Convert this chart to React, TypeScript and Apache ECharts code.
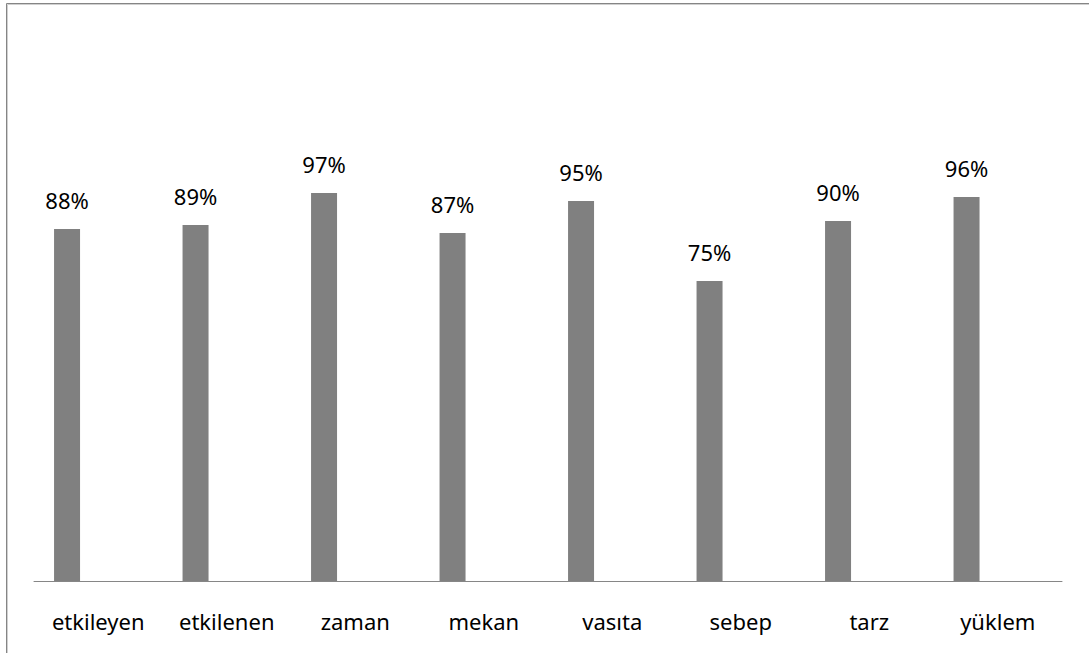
import React, { useEffect, useRef } from "react";
import * as echarts from "echarts";

const categories = ["etkileyen", "etkilenen", "zaman", "mekan", "vasıta", "sebep", "tarz", "yüklem"];
const percentValues = [88, 89, 97, 87, 95, 75, 90, 96];
const emptySeries = ["-", "-", "-", "-", "-", "-", "-", "-"];

export default function App() {
  const ref = useRef<HTMLDivElement>(null);
  useEffect(() => {
    if (!ref.current) return;
    const chart = echarts.init(ref.current, null, { renderer: "svg" });
    chart.setOption({
      animation: false,
      backgroundColor: "#ffffff",
      textStyle: { fontFamily: "Noto Sans" },
      grid: { left: 34, right: 27, top: 181, bottom: 72 },
      xAxis: {
        type: "category",
        data: categories,
        axisLine: { lineStyle: { color: "#868686", width: 1 } },
        axisTick: { show: false },
        axisLabel: { color: "#000", fontSize: 22, margin: 29, fontFamily: "Noto Sans" },
      },
      yAxis: {
        type: "value",
        min: 0,
        max: 100,
        show: false,
        splitLine: { show: false },
      },
      series: [
        {
          type: "bar",
          data: percentValues,
          barWidth: 26,
          barGap: "140%",
          itemStyle: { color: "#808080" },
          label: {
            show: true,
            position: "top",
            distance: 18,
            formatter: "{c}%",
            color: "#000",
            fontSize: 22,
            fontFamily: "Noto Sans",
          },
        },
        {
          type: "bar",
          data: emptySeries,
          barWidth: 26,
          itemStyle: { color: "#808080" },
        },
      ],
      graphic: [
        {
          type: "rect",
          shape: { x: 6.5, y: 3.5, width: 1200, height: 800 },
          style: { fill: "none", stroke: "#858585", lineWidth: 1 },
          silent: true,
        },
        {
          type: "rect",
          shape: { x: 7.5, y: 4.5, width: 1200, height: 800 },
          style: { fill: "none", stroke: "#d0d0d0", lineWidth: 1 },
          silent: true,
        },
      ],
    });
    return () => chart.dispose();
  }, []);
  return (
    <div
      ref={ref}
      style={{ position: "fixed", left: 0, top: 0, width: 1089, height: 653 }}
    />
  );
}
